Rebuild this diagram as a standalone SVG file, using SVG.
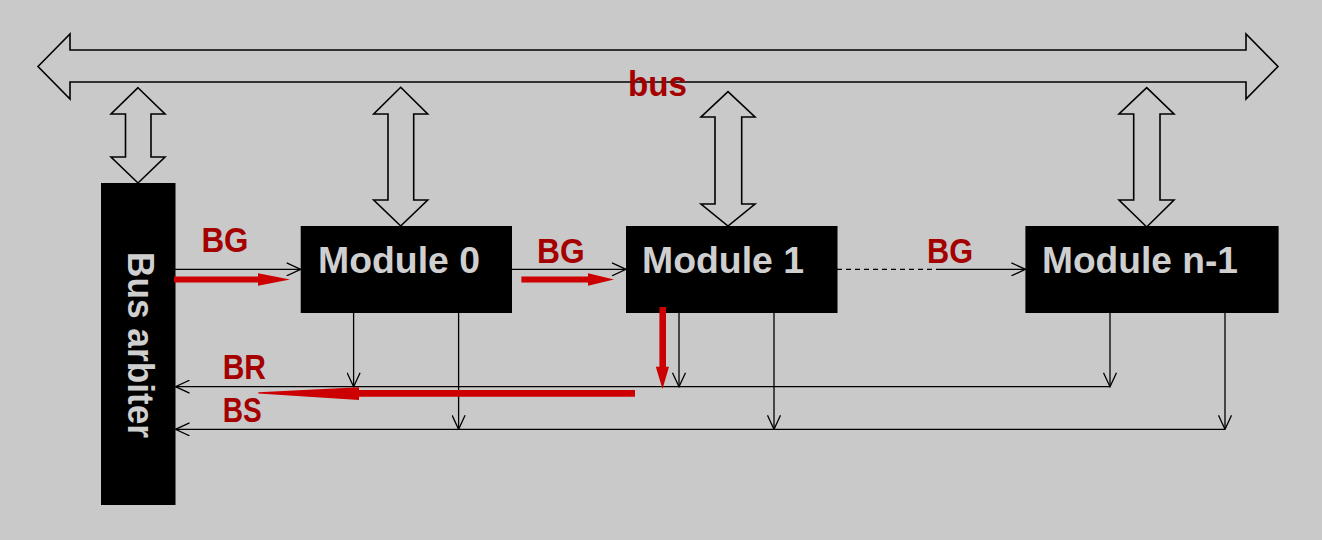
<svg xmlns="http://www.w3.org/2000/svg" width="1322" height="540" viewBox="0 0 1322 540">
<style>
.dbl{fill:#c9c9c9;stroke:#000;stroke-width:1.6;stroke-linejoin:miter}
.box{fill:#000}
.mtxt{font-family:"Liberation Sans",Arial,sans-serif;font-weight:bold;font-size:37.5px;fill:#cfcfcf}
.lbl{font-family:"Liberation Sans",Arial,sans-serif;font-weight:bold;font-size:35px;fill:#a50000}
.ln{fill:none;stroke:#000;stroke-width:1.3}
.red{fill:#cc0000}
</style>
<defs>
<marker id="ah" viewBox="0 0 16 14" refX="15" refY="7" markerWidth="16" markerHeight="14" markerUnits="userSpaceOnUse" orient="auto">
<path d="M1,0.5 L15,7 L1,13.5" fill="none" stroke="#000" stroke-width="1.3"/>
</marker>
</defs>
<rect x="0" y="0" width="1322" height="540" fill="#c9c9c9"/>

<g id="bus">
<path class="dbl" d="M38,66.5 L70,34 L70,50 L1246,50 L1246,34 L1278,66.5 L1246,99 L1246,82 L70,82 L70,99 Z"/>
<text class="lbl" x="628" y="96" textLength="59" lengthAdjust="spacingAndGlyphs">bus</text>
</g>

<g id="bus-links">
<path class="dbl" d="M138,87.7 L165,114 L151,114 L151,157 L165,157 L138,183 L111,157 L125.5,157 L125.5,114 L111,114 Z"/>
<path class="dbl" d="M400.7,87.3 L427.7,114 L413.7,114 L413.7,200 L427.7,200 L400.7,226 L373.7,200 L388,200 L388,114 L373.7,114 Z"/>
<path class="dbl" d="M728,91.7 L755,117 L741.7,117 L741.7,204 L755,204 L728,226 L701,204 L715,204 L715,117 L701,117 Z"/>
<path class="dbl" d="M1146.7,87.7 L1174,114 L1160,114 L1160,200 L1174,200 L1146.7,227 L1119,200 L1133.7,200 L1133.7,114 L1119,114 Z"/>
</g>

<g id="arbiter">
<rect class="box" x="101" y="183" width="74.5" height="322"/>
<text class="mtxt" transform="translate(128,252) rotate(90)" x="0" y="0" font-size="38" textLength="186" lengthAdjust="spacingAndGlyphs">Bus arbiter</text>
</g>

<g id="module0">
<rect class="box" x="300.7" y="226" width="211.3" height="87"/>
<text class="mtxt" x="318" y="273" textLength="162" lengthAdjust="spacingAndGlyphs">Module 0</text>
</g>

<g id="module1">
<rect class="box" x="626" y="226" width="211.5" height="87"/>
<text class="mtxt" x="642" y="273" textLength="162" lengthAdjust="spacingAndGlyphs">Module 1</text>
</g>

<g id="modulen1">
<rect class="box" x="1025.4" y="226" width="253.2" height="87"/>
<text class="mtxt" x="1042" y="273" textLength="196" lengthAdjust="spacingAndGlyphs">Module n-1</text>
</g>

<g id="connectors">
<path class="ln" d="M175,269.3 H300.7" marker-end="url(#ah)"/>
<path class="ln" d="M512,269.3 H626" marker-end="url(#ah)"/>
<path class="ln" d="M837,269.3 H941" stroke-dasharray="5,4"/>
<path class="ln" d="M941,269.3 H1025.4" marker-end="url(#ah)"/>
<path class="ln" d="M353.6,313 V386.7" marker-end="url(#ah)"/>
<path class="ln" d="M458.6,313 V429.3" marker-end="url(#ah)"/>
<path class="ln" d="M679,313 V386.7" marker-end="url(#ah)"/>
<path class="ln" d="M774,313 V429.3" marker-end="url(#ah)"/>
<path class="ln" d="M1110,313 V386.7" marker-end="url(#ah)"/>
<path class="ln" d="M1225,313 V429.3" marker-end="url(#ah)"/>
<path class="ln" d="M1110,386.7 H175.5" marker-end="url(#ah)"/>
<path class="ln" d="M1225,429.3 H175.5" marker-end="url(#ah)"/>
</g>

<g id="red-arrows">
<polygon class="red" points="174,276.5 258,276.5 258,273.3 290,279.5 258,285.7 258,282.5 174,282.5"/>
<polygon class="red" points="521.4,276.5 588,276.5 588,273.3 614,279.5 588,285.7 588,282.5 521.4,282.5"/>
<polygon class="red" points="659.4,307 666,307 666,366.7 669,366.7 662.5,389 655.8,366.7 659.4,366.7"/>
<polygon class="red" points="635,390 359,390 359,387.3 258.3,392.2 258.3,393.4 359,400 359,396.7 635,396.7"/>
</g>

<g id="labels">
<text class="lbl" x="201.4" y="251.7" textLength="47" lengthAdjust="spacingAndGlyphs">BG</text>
<text class="lbl" x="537" y="263" textLength="47.6" lengthAdjust="spacingAndGlyphs">BG</text>
<text class="lbl" x="927" y="262.7" textLength="46" lengthAdjust="spacingAndGlyphs">BG</text>
<text class="lbl" x="222.7" y="379" textLength="43.3" lengthAdjust="spacingAndGlyphs">BR</text>
<text class="lbl" x="222.7" y="421.7" textLength="39" lengthAdjust="spacingAndGlyphs">BS</text>
</g>
</svg>
